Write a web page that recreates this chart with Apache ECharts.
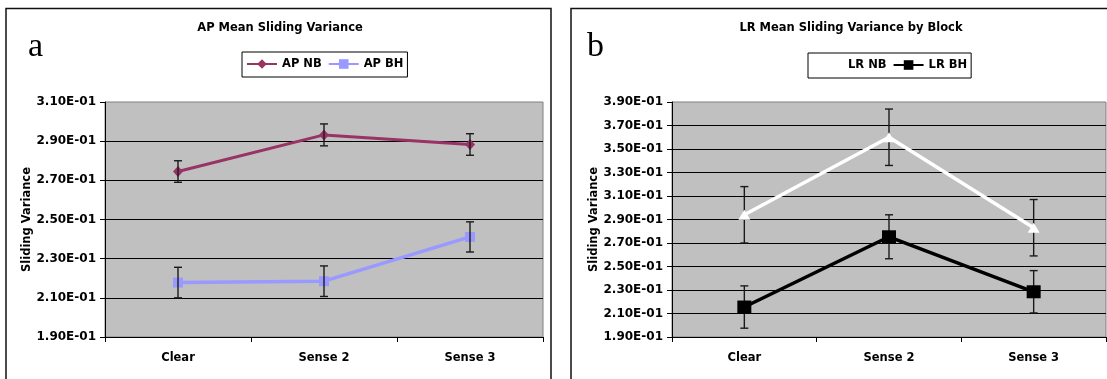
<!DOCTYPE html>
<html>
<head>
<meta charset="utf-8">
<script src="https://cdn.jsdelivr.net/npm/echarts@6/dist/echarts.min.js"></script>
<style>
html,body{margin:0;padding:0;background:#fff;}
#chart{width:1107px;height:379px;}
</style>
</head>
<body>
<div id="chart"></div>
<script>
// ---- data ----
const categories = ['Clear', 'Sense 2', 'Sense 3'];
const apNB = [0.2745, 0.2932, 0.2883];
const apNBErr = [0.0055, 0.0056, 0.0055];
const apBH = [0.2178, 0.2185, 0.2411];
const apBHErr = [0.0078, 0.0078, 0.0077];
const lrNB = [0.294, 0.360, 0.283];
const lrNBErr = [0.024, 0.024, 0.024];
const lrBH = [0.2155, 0.2753, 0.2285];
const lrBHErr = [0.018, 0.0187, 0.018];
const yTicksA = ['1.90E-01', '2.10E-01', '2.30E-01', '2.50E-01', '2.70E-01', '2.90E-01', '3.10E-01'];
const yTicksB = ['1.90E-01', '2.10E-01', '2.30E-01', '2.50E-01', '2.70E-01', '2.90E-01', '3.10E-01', '3.30E-01', '3.50E-01', '3.70E-01', '3.90E-01'];
const titleA = 'AP Mean Sliding Variance';
const titleB = 'LR Mean Sliding Variance by Block';
const yName = 'Sliding Variance';

// ---- helpers ----
const FONT = '"DejaVu Sans", sans-serif';
function errData(vals, errs) {
  return vals.map((v, i) => [i, v - errs[i], v + errs[i]]);
}
function errRender(params, api) {
  const i = api.value(0);
  const lo = api.coord([i, api.value(1)]);
  const hi = api.coord([i, api.value(2)]);
  const w = 4;
  const st = { stroke: '#1a1a1a', lineWidth: 1.4 };
  return {
    type: 'group',
    children: [
      { type: 'line', shape: { x1: hi[0], y1: hi[1], x2: lo[0], y2: lo[1] }, style: st },
      { type: 'line', shape: { x1: hi[0] - w, y1: hi[1], x2: hi[0] + w, y2: hi[1] }, style: st },
      { type: 'line', shape: { x1: lo[0] - w, y1: lo[1], x2: lo[0] + w, y2: lo[1] }, style: st }
    ]
  };
}
function xAxisOpt(gi) {
  return {
    type: 'category', gridIndex: gi, data: categories, boundaryGap: true,
    axisLine: { show: true, lineStyle: { color: '#000', width: 1 } },
    axisTick: { show: true, alignWithLabel: false, length: 5, inside: false, lineStyle: { color: '#000' } },
    axisLabel: { color: '#000', fontFamily: FONT, fontWeight: 'bold', fontSize: 11.5, margin: 15 },
    splitLine: { show: false }
  };
}
function yAxisOpt(gi, min, max, ticks, gap) {
  return {
    type: 'value', gridIndex: gi, min: min, max: max, interval: 0.02,
    name: yName, nameLocation: 'middle', nameGap: gap, nameRotate: 90,
    nameTextStyle: { color: '#000', fontFamily: FONT, fontWeight: 'bold', fontSize: 11.5 },
    axisLine: { show: true, lineStyle: { color: '#000', width: 1 } },
    axisTick: { show: true, length: 5, inside: false, lineStyle: { color: '#000' } },
    axisLabel: {
      color: '#000', fontFamily: FONT, fontWeight: 'bold', fontSize: 12, margin: 9,
      formatter: (v, idx) => ticks[idx]
    },
    splitLine: { show: true, showMinLine: false, showMaxLine: false, lineStyle: { color: '#000', width: 1 } }
  };
}
const legendBase = {
  orient: 'horizontal', itemWidth: 30, itemHeight: 12, itemGap: 6,
  padding: [6, 4, 7, 4], borderColor: '#000', borderWidth: 1, backgroundColor: '#fff',
  textStyle: { color: '#000', fontFamily: FONT, fontWeight: 'bold', fontSize: 11.5 },
  selectedMode: false
};

const chart = echarts.init(document.getElementById('chart'), null, { renderer: 'canvas' });
chart.setOption({
  animation: false,
  backgroundColor: '#fff',
  graphic: [
    { type: 'rect', shape: { x: 6, y: 8.5, width: 545, height: 420 }, style: { fill: 'none', stroke: '#111', lineWidth: 1.5 }, z: -10 },
    { type: 'rect', shape: { x: 571, y: 8.5, width: 600, height: 420 }, style: { fill: 'none', stroke: '#111', lineWidth: 1.5 }, z: -10 },
    { type: 'text', x: 280, y: 28, style: { text: titleA, textAlign: 'center', textVerticalAlign: 'middle', font: 'bold 11.5px ' + FONT, fill: '#000' } },
    { type: 'text', x: 851, y: 28, style: { text: titleB, textAlign: 'center', textVerticalAlign: 'middle', font: 'bold 11.5px ' + FONT, fill: '#000' } },
    { type: 'text', x: 28, y: 47, style: { text: 'a', textAlign: 'left', textVerticalAlign: 'middle', font: '34px "Liberation Serif", "DejaVu Serif", serif', fill: '#000' } },
    { type: 'text', x: 587, y: 47, style: { text: 'b', textAlign: 'left', textVerticalAlign: 'middle', font: '34px "Liberation Serif", "DejaVu Serif", serif', fill: '#000' } }
  ],
  legend: [
    Object.assign({}, legendBase, { left: 242, top: 52, data: ['AP NB', 'AP BH'] }),
    Object.assign({}, legendBase, { left: 808, top: 53, data: ['LR NB', 'LR BH'] })
  ],
  grid: [
    { left: 105, top: 102, width: 438, height: 235, show: true, backgroundColor: '#C0C0C0', borderColor: '#808080', borderWidth: 1, containLabel: false },
    { left: 672, top: 102, width: 434, height: 235, show: true, backgroundColor: '#C0C0C0', borderColor: '#808080', borderWidth: 1, containLabel: false }
  ],
  xAxis: [xAxisOpt(0), xAxisOpt(1)],
  yAxis: [yAxisOpt(0, 0.19, 0.31, yTicksA, 67), yAxisOpt(1, 0.19, 0.39, yTicksB, 70)],
  series: [
    {
      name: 'AP NB', type: 'line', xAxisIndex: 0, yAxisIndex: 0, data: apNB,
      symbol: 'diamond', symbolSize: [10, 11], color: '#993366',
      lineStyle: { color: '#993366', width: 3 }, itemStyle: { color: '#993366' }, z: 3
    },
    {
      name: 'AP BH', type: 'line', xAxisIndex: 0, yAxisIndex: 0, data: apBH,
      symbol: 'rect', symbolSize: 10, color: '#9999FF',
      lineStyle: { color: '#9999FF', width: 3.5 }, itemStyle: { color: '#9999FF' }, z: 3
    },
    {
      name: 'AP NB err', type: 'custom', xAxisIndex: 0, yAxisIndex: 0,
      data: errData(apNB, apNBErr), renderItem: errRender, encode: { x: 0, y: [1, 2] }, z: 5, silent: true
    },
    {
      name: 'AP BH err', type: 'custom', xAxisIndex: 0, yAxisIndex: 0,
      data: errData(apBH, apBHErr), renderItem: errRender, encode: { x: 0, y: [1, 2] }, z: 5, silent: true
    },
    {
      name: 'LR NB err', type: 'custom', xAxisIndex: 1, yAxisIndex: 1,
      data: errData(lrNB, lrNBErr), renderItem: errRender, encode: { x: 0, y: [1, 2] }, z: 2, silent: true
    },
    {
      name: 'LR BH err', type: 'custom', xAxisIndex: 1, yAxisIndex: 1,
      data: errData(lrBH, lrBHErr), renderItem: errRender, encode: { x: 0, y: [1, 2] }, z: 2, silent: true
    },
    {
      name: 'LR NB', type: 'line', xAxisIndex: 1, yAxisIndex: 1, data: lrNB,
      symbol: 'triangle', symbolSize: [12, 10], color: '#FFFFFF',
      lineStyle: { color: '#FFFFFF', width: 3.5 }, itemStyle: { color: '#FFFFFF' }, z: 3
    },
    {
      name: 'LR BH', type: 'line', xAxisIndex: 1, yAxisIndex: 1, data: lrBH,
      symbol: 'rect', symbolSize: [14, 13], color: '#000000',
      lineStyle: { color: '#000000', width: 3.5 }, itemStyle: { color: '#000000' }, z: 3
    }
  ]
});
</script>
</body>
</html>
